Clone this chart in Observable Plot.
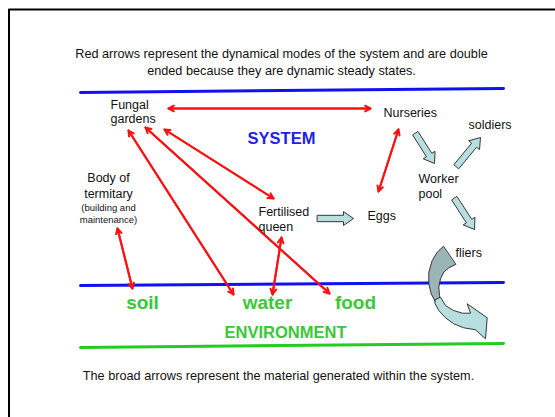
<!DOCTYPE html>
<html><head><meta charset="utf-8">
<script src="https://cdn.jsdelivr.net/npm/d3@7"></script>
<script src="https://cdn.jsdelivr.net/npm/@observablehq/plot@0.6"></script>
<style>body{margin:0;background:#fff}</style>
</head><body><div id="chart"></div>
<script>
// ---- texts ----
const headerLines = ["Red arrows represent the dynamical modes of the system and are double",
                     "ended because they are dynamic steady states."];
const headerY = [53, 70];
const footerLines = ["The broad arrows represent the material generated within the system."];
const footerY = [375];
const nodeLabels = ["Fungal", "gardens", "Nurseries", "soldiers", "Worker", "pool", "Eggs", "Fertilised", "queen", "fliers"];
const nodeX = [110, 110, 383, 468, 418, 418, 367, 258, 258, 455];
const nodeY = [104, 118, 112, 124, 178, 193, 215, 211, 226, 252];
const bodyLabels = ["Body of", "termitary"];
const bodyY = [177, 193];
const bodyNote = ["(building and", "maintenance)"];
const bodyNoteY = [207, 219];
const bodyX = 108;
const envLabels = ["soil", "water", "food"];
const envX = [142, 267, 355];
const envY = 302;
const regionLabels = ["SYSTEM", "ENVIRONMENT"];
const regionX = [281, 285];
const regionY = [138, 332];

// ---- boundaries ----
const frameX = [8.5, 8.5, 600];
const frameY = [440, 9, 9];
const boundaryNames = ["system-top", "system-env", "env-bottom"];
const boundaryX = [[80, 503], [80, 503], [80, 503]];
const boundaryY = [[92, 88], [285, 282], [347, 343]];

// ---- red double-ended arrows (dynamic modes) ----
const modeNames = ["gardens-nurseries", "nurseries-eggs", "gardens-queen", "gardens-food", "gardens-water", "body-soil", "queen-water"];
const modeA = [[168, 108], [398, 129], [164, 129], [145, 127], [128, 130], [117, 228], [281, 237]];
const modeB = [[370, 108], [378, 191], [273, 198], [329, 293], [233, 294], [132, 288], [272, 294]];

// ---- broad (block) arrows ----
const broadNames = ["queen-eggs", "nurseries-worker", "worker-soldiers", "worker-fliers"];
const broadFrom = [[317, 218], [415, 133], [456, 166], [454, 198]];
const broadTo = [[353, 218], [434, 163], [480, 137], [474, 229]];

// ---- curved "fliers" arrow outline ----
const fliersBackX = [442.7, 436.7, 431.7, 428.3, 428.3, 430.7, 435, 440, 439, 438.3, 440, 443.3, 448.3, 455];
const fliersBackY = [246, 251.7, 260, 271.7, 283.3, 293.3, 301.7, 301, 295, 286.7, 278.3, 271.7, 267.3, 264];
const fliersFrontX = [435, 440, 445, 453, 462, 470, 466.7, 486.7, 485, 475, 463.3, 453.3, 445, 438.3, 434.5];
const fliersFrontY = [299, 296.7, 305, 310, 312.7, 312.7, 303.3, 317.3, 338.3, 329.3, 327.3, 323.3, 317.3, 310, 303];

// build tables
const font = "Liberation Sans, Arial, Helvetica, sans-serif";
const frame = frameX.map((x, i) => ({x, y: frameY[i]}));
const boundaries = boundaryNames.flatMap((n, i) => boundaryX[i].map((x, j) => ({n, x, y: boundaryY[i][j]})));
const modes = modeNames.map((n, i) => ({n, x1: modeA[i][0], y1: modeA[i][1], x2: modeB[i][0], y2: modeB[i][1]}));
function blockArrow(n, [x1, y1], [x2, y2]) {
  const dx = x2 - x1, dy = y2 - y1, L = Math.hypot(dx, dy);
  const ux = dx / L, uy = dy / L, px = -uy, py = ux;
  const sw = 3.2, hw = 7, hl = 10;
  const bx = x2 - ux * hl, by = y2 - uy * hl;
  const pts = [
    [x1 + px * sw, y1 + py * sw], [bx + px * sw, by + py * sw], [bx + px * hw, by + py * hw],
    [x2, y2],
    [bx - px * hw, by - py * hw], [bx - px * sw, by - py * sw], [x1 - px * sw, y1 - py * sw]
  ];
  return pts.map(([x, y]) => ({n, x, y}));
}
const broad = broadNames.flatMap((n, i) => blockArrow(n, broadFrom[i], broadTo[i]));
const fliersBack = fliersBackX.map((x, i) => ({x, y: fliersBackY[i]}));
const fliersFront = fliersFrontX.map((x, i) => ({x, y: fliersFrontY[i]}));
const nodes = nodeLabels.map((t, i) => ({t, x: nodeX[i], y: nodeY[i]}));
const body = bodyLabels.map((t, i) => ({t, y: bodyY[i]}));
const bodySmall = bodyNote.map((t, i) => ({t, y: bodyNoteY[i]}));
const env = envLabels.map((t, i) => ({t, x: envX[i]}));
const regions = regionLabels.map((t, i) => ({t, x: regionX[i], y: regionY[i], c: i === 0 ? "#1f1fe6" : "#38c938"}));
const header = headerLines.map((t, i) => ({t, y: headerY[i]}));
const footer = footerLines.map((t, i) => ({t, y: footerY[i]}));

const redArrow = {stroke: "#ff1010", strokeWidth: 2, headLength: 4.5, headAngle: 55, inset: 0};

const chart = Plot.plot({
  width: 555, height: 417, margin: 0,
  x: {domain: [0, 555], range: [0, 555], axis: null},
  y: {domain: [0, 417], range: [0, 417], axis: null},
  style: {fontFamily: font, background: "white", color: "#111"},
  marks: [
    Plot.line(frame, {x: "x", y: "y", stroke: "#000", strokeWidth: 2}),
    Plot.line(boundaries, {x: "x", y: "y", z: "n", stroke: d => d.n === "env-bottom" ? "#22cc22" : "#1010f0", strokeWidth: 3}),
    Plot.arrow(modes, {x1: "x1", y1: "y1", x2: "x2", y2: "y2", ...redArrow}),
    Plot.arrow(modes, {x1: "x2", y1: "y2", x2: "x1", y2: "y1", ...redArrow}),
    Plot.line(broad, {x: "x", y: "y", z: "n", curve: "linear-closed", fill: "#b8dfe0", stroke: "#222", strokeWidth: 0.9}),
    Plot.line(fliersBack, {x: "x", y: "y", curve: "linear-closed", fill: "#9bb4b6", stroke: "#222", strokeWidth: 0.9}),
    Plot.line(fliersFront, {x: "x", y: "y", curve: "linear-closed", fill: "#b8dfe0", stroke: "#222", strokeWidth: 0.9}),
    Plot.text(header, {x: 281, y: "y", text: "t", fontSize: 12.7, fill: "#111"}),
    Plot.text(footer, {x: 278, y: "y", text: "t", fontSize: 12.7, fill: "#111"}),
    Plot.text(nodes, {x: "x", y: "y", text: "t", textAnchor: "start", fontSize: 12.5, fill: "#111"}),
    Plot.text(body, {x: bodyX, y: "y", text: "t", fontSize: 12.5, fill: "#111"}),
    Plot.text(bodySmall, {x: bodyX, y: "y", text: "t", fontSize: 9.5, fill: "#111"}),
    Plot.text(env, {x: "x", y: envY, text: "t", fontSize: 19, fontWeight: "bold", fill: "#38c938"}),
    Plot.text(regions, {x: "x", y: "y", text: "t", fontSize: 16.5, fontWeight: "bold", fill: d => d.c})
  ]
});
document.getElementById("chart").append(chart);
</script>
</body></html>
